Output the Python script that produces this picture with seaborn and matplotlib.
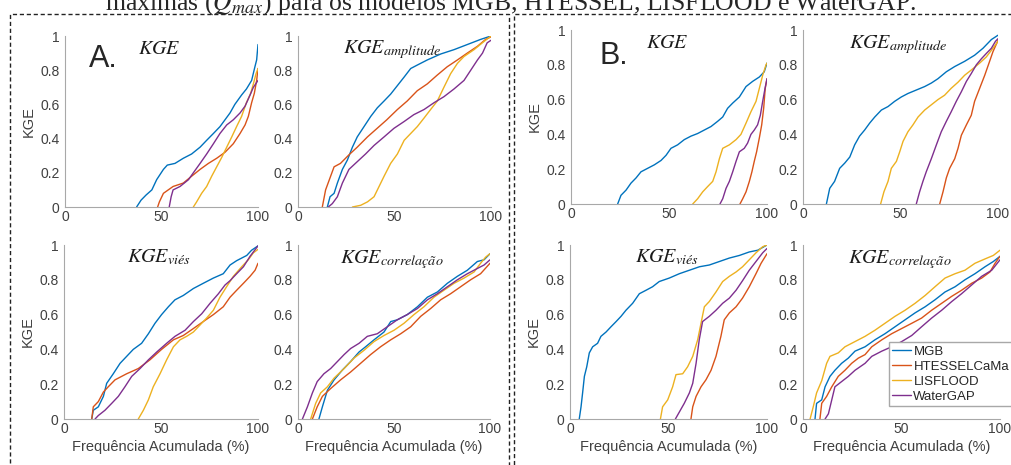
import matplotlib
matplotlib.use("Agg")
import matplotlib.pyplot as plt
import matplotlib.patches as mpatches
import pandas as pd
import seaborn as sns

modelos = ["MGB", "HTESSELCaMa", "LISFLOOD", "WaterGAP"]
cores = ["#0072BD", "#D95319", "#EDB120", "#7E2F8E"]

legenda_caption = "máximas ($Q_{max}$) para os modelos MGB, HTESSEL, LISFLOOD e WaterGAP."
xticks = [0, 50, 100]
yticks = [0, 0.2, 0.4, 0.6, 0.8, 1]
ytick_labels = ["0", "0.2", "0.4", "0.6", "0.8", "1"]

# curvas: modelo -> (frequencia acumulada %, KGE)
# A. KGE
a_kge = {
    "MGB": ([37.1, 39.4, 42, 45, 47.5, 51, 53, 57, 61.3, 65.6, 70, 73.4, 76.9, 80.3, 82.9, 85.5, 88, 91.5, 94, 96.7, 98.4, 99.3, 100],
            [0, 0.04, 0.07, 0.1, 0.16, 0.22, 0.245, 0.255, 0.285, 0.31, 0.35, 0.39, 0.43, 0.47, 0.51, 0.55, 0.6, 0.655, 0.69, 0.74, 0.82, 0.86, 0.95]),
    "HTESSELCaMa": ([48, 48.9, 51, 56, 61.3, 65.6, 70, 74.3, 78.6, 82.9, 87.2, 90.7, 93.3, 95, 96.7, 98.1, 99.3, 100],
                    [0, 0.03, 0.08, 0.12, 0.14, 0.18, 0.22, 0.255, 0.285, 0.32, 0.37, 0.43, 0.48, 0.53, 0.61, 0.665, 0.74, 0.81]),
    "LISFLOOD": ([66.5, 68.2, 70.8, 73.4, 76, 78.6, 81.2, 83.8, 86.4, 88.9, 91.5, 94, 96.2, 97.6, 99, 100],
                 [0, 0.03, 0.08, 0.12, 0.18, 0.235, 0.29, 0.35, 0.41, 0.47, 0.53, 0.61, 0.665, 0.72, 0.78, 0.81]),
    "WaterGAP": ([54, 55, 56, 59.6, 64, 66.5, 70, 73.4, 76.9, 80.3, 83.8, 87.2, 90.7, 93.3, 95.9, 97.6, 100],
                 [0, 0.06, 0.1, 0.12, 0.16, 0.2, 0.255, 0.31, 0.37, 0.43, 0.48, 0.51, 0.55, 0.59, 0.655, 0.7, 0.74]),
}
# A. KGE amplitude
a_amp = {
    "MGB": ([15.2, 16.6, 18.7, 20.4, 23, 25.6, 28.2, 30.7, 34.2, 37.7, 41.1, 44.6, 48, 51.5, 55, 58.4, 61.8, 67, 74, 80.8, 87.7, 94.6, 100],
            [0, 0.06, 0.08, 0.14, 0.22, 0.275, 0.35, 0.41, 0.47, 0.53, 0.58, 0.62, 0.66, 0.71, 0.76, 0.81, 0.83, 0.86, 0.895, 0.92, 0.95, 0.98, 1.0]),
    "HTESSELCaMa": ([12.6, 14.3, 16.9, 18.7, 22, 26.4, 30.7, 36, 41, 46, 51.5, 56.6, 61.8, 67, 72, 77.3, 82.6, 87.7, 93, 97.2, 100],
                    [0, 0.1, 0.18, 0.235, 0.255, 0.305, 0.35, 0.41, 0.46, 0.51, 0.57, 0.62, 0.68, 0.72, 0.77, 0.82, 0.86, 0.9, 0.94, 0.98, 0.995]),
    "LISFLOOD": ([28.2, 32.5, 36, 39.4, 42, 44.6, 48, 51.5, 55, 58.4, 61.8, 65.3, 68.7, 72.2, 75.6, 79.1, 82.6, 86, 91.2, 95.5, 100],
                 [0, 0.01, 0.03, 0.06, 0.12, 0.18, 0.255, 0.31, 0.39, 0.43, 0.47, 0.52, 0.57, 0.62, 0.7, 0.78, 0.84, 0.88, 0.92, 0.96, 1.0]),
    "WaterGAP": ([15.7, 17.8, 20.4, 23, 26.4, 30.7, 35, 39.4, 44.6, 49.7, 55, 60, 65.3, 70.5, 75.6, 80.8, 86, 89.5, 93, 95.6, 98, 100],
                 [0, 0.02, 0.06, 0.14, 0.22, 0.265, 0.31, 0.36, 0.41, 0.46, 0.5, 0.54, 0.57, 0.61, 0.645, 0.69, 0.74, 0.8, 0.86, 0.9, 0.96, 0.975]),
}
# A. KGE vies
a_vies = {
    "MGB": ([14.3, 15.1, 17.7, 20.3, 22, 25.4, 28.9, 32.3, 35.7, 40, 43.5, 46.9, 50.3, 53.8, 57.2, 61.5, 66.7, 71.8, 77, 82.1, 85.6, 89, 94.2, 96.7, 100],
            [0, 0.05, 0.07, 0.13, 0.205, 0.26, 0.32, 0.36, 0.4, 0.435, 0.49, 0.55, 0.6, 0.645, 0.685, 0.71, 0.75, 0.78, 0.81, 0.835, 0.885, 0.91, 0.94, 0.97, 0.995]),
    "HTESSELCaMa": ([14.3, 15.1, 17.7, 20.3, 22.8, 26.3, 32.3, 38.3, 44.3, 50.3, 56.4, 61.5, 66.7, 71.8, 77, 82.1, 85.6, 89, 92.5, 95.9, 98.5, 100],
                    [0, 0.07, 0.1, 0.155, 0.185, 0.225, 0.26, 0.29, 0.34, 0.4, 0.455, 0.48, 0.52, 0.56, 0.6, 0.645, 0.7, 0.74, 0.78, 0.82, 0.855, 0.895]),
    "LISFLOOD": ([38.3, 40.9, 43.5, 46, 49.5, 52.9, 56.4, 59.8, 63.2, 66.7, 70.1, 73.5, 77, 80.4, 83.8, 87.3, 91.6, 95, 97.6, 100],
                 [0, 0.05, 0.11, 0.185, 0.26, 0.34, 0.415, 0.455, 0.475, 0.5, 0.54, 0.58, 0.625, 0.7, 0.76, 0.82, 0.875, 0.915, 0.955, 0.975]),
    "WaterGAP": ([16, 17.7, 21.1, 24.6, 28, 31.4, 34.9, 39.2, 43.5, 47.8, 52.9, 57.2, 62.4, 66.7, 71, 75.3, 79.6, 83, 85.6, 89, 92.5, 95.9, 100],
                 [0, 0.02, 0.05, 0.09, 0.13, 0.185, 0.245, 0.29, 0.34, 0.385, 0.435, 0.475, 0.51, 0.56, 0.605, 0.665, 0.72, 0.77, 0.795, 0.835, 0.875, 0.935, 0.995]),
}
# A. KGE correlacao
a_corr = {
    "MGB": ([10.9, 12.7, 15.3, 18.8, 23, 27.4, 31.8, 35.2, 39.6, 44.8, 48.3, 51.7, 56.9, 62.2, 67.4, 72.6, 77.8, 83, 88.2, 93.4, 96.9, 100],
            [0, 0.07, 0.165, 0.225, 0.28, 0.33, 0.385, 0.415, 0.455, 0.5, 0.56, 0.57, 0.6, 0.645, 0.7, 0.73, 0.78, 0.82, 0.855, 0.905, 0.915, 0.95]),
    "HTESSELCaMa": ([7.5, 10, 12.7, 17, 22.2, 27.4, 32.6, 37.8, 43, 48.3, 53.5, 58.7, 63.9, 69.1, 74.3, 79.5, 84.7, 89.9, 95.1, 100],
                    [0, 0.07, 0.13, 0.175, 0.225, 0.27, 0.32, 0.37, 0.415, 0.455, 0.49, 0.53, 0.59, 0.635, 0.685, 0.72, 0.76, 0.8, 0.835, 0.895]),
    "LISFLOOD": ([6.6, 9.2, 11.8, 15.3, 18.8, 24, 29.2, 34.4, 39.6, 44.8, 50, 55.2, 60.4, 65.6, 70.8, 76, 81.3, 86.5, 91.7, 95.1, 97.7, 100],
                 [0, 0.09, 0.15, 0.185, 0.235, 0.29, 0.35, 0.395, 0.445, 0.48, 0.51, 0.55, 0.6, 0.645, 0.7, 0.74, 0.78, 0.81, 0.845, 0.895, 0.93, 0.95]),
    "WaterGAP": ([2.3, 4.9, 7.5, 10, 13.5, 17, 20.5, 24, 27.4, 31.8, 36.1, 41.3, 46.5, 51.7, 56.9, 62.2, 67.4, 72.6, 77.8, 83, 88.2, 93.4, 96.9, 100],
                 [0, 0.07, 0.15, 0.215, 0.26, 0.29, 0.33, 0.37, 0.405, 0.435, 0.475, 0.49, 0.53, 0.57, 0.6, 0.635, 0.685, 0.72, 0.76, 0.8, 0.835, 0.865, 0.885, 0.915]),
}
# B. KGE
b_kge = {
    "MGB": ([23.8, 25.5, 28.1, 30.6, 33.2, 35.7, 39.1, 42.5, 45.9, 48.5, 51, 54.4, 57.8, 61.2, 64.6, 68, 71.4, 74.8, 77.4, 79.9, 82.5, 85.9, 89.3, 92.7, 96.1, 98.6, 100],
            [0, 0.05, 0.08, 0.12, 0.15, 0.185, 0.205, 0.225, 0.25, 0.28, 0.32, 0.34, 0.37, 0.39, 0.405, 0.425, 0.445, 0.475, 0.5, 0.55, 0.58, 0.615, 0.675, 0.705, 0.73, 0.76, 0.81]),
    "HTESSELCaMa": ([86.2, 87.6, 89.3, 91, 92.3, 93.5, 94.7, 96.1, 97.3, 98.3, 99.1, 100],
                    [0, 0.03, 0.07, 0.13, 0.185, 0.245, 0.3, 0.38, 0.455, 0.55, 0.665, 0.72]),
    "LISFLOOD": ([62.1, 64.6, 67.2, 69.7, 72.3, 74, 75.7, 77.4, 80.8, 84.2, 86.7, 89.3, 91.8, 94.4, 96.1, 97.8, 99.5, 100],
                 [0, 0.03, 0.07, 0.1, 0.13, 0.185, 0.26, 0.32, 0.34, 0.37, 0.4, 0.465, 0.53, 0.59, 0.665, 0.74, 0.8, 0.81]),
    "WaterGAP": ([76, 77.4, 79.1, 80.8, 82.5, 84.2, 85.9, 88.4, 90.1, 91.8, 93.5, 95.2, 96.6, 97.8, 99, 100],
                 [0, 0.03, 0.09, 0.13, 0.185, 0.245, 0.3, 0.32, 0.35, 0.4, 0.425, 0.455, 0.51, 0.59, 0.665, 0.72]),
}
# B. KGE amplitude
b_amp = {
    "MGB": ([12, 13.7, 16.2, 18.8, 21.4, 24, 26.5, 29, 31.6, 34.2, 36.8, 40.2, 43.6, 47, 50.4, 53.8, 58.1, 62.4, 65.8, 69.2, 73.5, 77.8, 82.9, 88, 92.3, 96.6, 100],
            [0, 0.09, 0.13, 0.205, 0.235, 0.27, 0.34, 0.39, 0.425, 0.465, 0.5, 0.54, 0.56, 0.59, 0.615, 0.635, 0.655, 0.675, 0.695, 0.72, 0.76, 0.79, 0.82, 0.855, 0.895, 0.945, 0.97]),
    "HTESSELCaMa": ([70.1, 71.8, 73.5, 75.2, 77.8, 79.5, 81.2, 83.8, 86.3, 88, 90.6, 93.2, 95.7, 97.4, 100],
                    [0, 0.07, 0.15, 0.205, 0.26, 0.32, 0.395, 0.455, 0.51, 0.59, 0.665, 0.74, 0.82, 0.875, 0.94]),
    "LISFLOOD": ([39.8, 41.5, 43.6, 45.3, 47.9, 49.6, 51.3, 53.8, 56.4, 59, 62.4, 65.8, 69.2, 72.6, 76, 79.5, 82.9, 86.3, 90.6, 94, 97.4, 100],
                 [0, 0.07, 0.13, 0.205, 0.245, 0.3, 0.36, 0.415, 0.455, 0.5, 0.54, 0.57, 0.6, 0.625, 0.665, 0.7, 0.74, 0.77, 0.81, 0.845, 0.895, 0.935]),
    "WaterGAP": ([58.1, 59.8, 61.5, 63.2, 65.8, 68.4, 70.9, 73.5, 76, 78.6, 81.2, 83.8, 86.3, 88.9, 91.5, 94, 96.6, 98.7, 100],
                 [0, 0.07, 0.13, 0.185, 0.26, 0.34, 0.415, 0.475, 0.53, 0.59, 0.645, 0.705, 0.75, 0.8, 0.835, 0.865, 0.895, 0.935, 0.95]),
}
# B. KGE vies
b_vies = {
    "MGB": ([4.7, 5.6, 6.4, 7.3, 8.5, 9.8, 11.5, 14, 15.7, 18.3, 20.8, 23.4, 25.9, 28.4, 31.8, 35.2, 38.6, 41.9, 45.3, 50.4, 55.5, 60.6, 65.7, 70.7, 75.8, 80.9, 86, 91, 95.3, 100],
            [0, 0.07, 0.15, 0.245, 0.3, 0.38, 0.415, 0.435, 0.475, 0.5, 0.53, 0.56, 0.59, 0.625, 0.665, 0.72, 0.74, 0.76, 0.79, 0.81, 0.835, 0.855, 0.875, 0.885, 0.905, 0.925, 0.94, 0.96, 0.97, 1.0]),
    "HTESSELCaMa": ([61.4, 62.3, 64, 66.5, 69, 71.6, 74.1, 76.6, 78.3, 80.9, 84.3, 87.6, 91, 94.4, 97, 100],
                    [0, 0.07, 0.13, 0.185, 0.225, 0.28, 0.36, 0.475, 0.57, 0.61, 0.645, 0.695, 0.76, 0.835, 0.895, 0.95]),
    "LISFLOOD": ([45.9, 47, 49.6, 52.1, 53.8, 57.2, 59.7, 62.3, 64.8, 66.5, 68.2, 70.7, 74.1, 77.5, 80.9, 84.3, 87.6, 91, 94.4, 97.8, 100],
                 [0, 0.07, 0.11, 0.185, 0.255, 0.26, 0.3, 0.36, 0.455, 0.55, 0.645, 0.675, 0.73, 0.79, 0.82, 0.845, 0.875, 0.915, 0.955, 0.99, 1.0]),
    "WaterGAP": ([53.5, 55.5, 58, 60.6, 62.3, 64, 65.6, 67.3, 70.7, 74.1, 77.5, 80.9, 84.3, 87.6, 91, 94.4, 97.8, 100],
                 [0, 0.04, 0.09, 0.15, 0.205, 0.32, 0.455, 0.56, 0.59, 0.625, 0.665, 0.695, 0.74, 0.795, 0.855, 0.905, 0.955, 0.98]),
}
# B. KGE correlacao
b_corr = {
    "MGB": ([6.1, 6.9, 9.5, 11.2, 13.7, 16.2, 19.6, 23, 26.4, 31.5, 36.5, 41.6, 46.7, 51.8, 56.9, 62, 67, 72.1, 77.2, 82.2, 87.3, 92.4, 96.6, 100],
            [0, 0.09, 0.11, 0.185, 0.245, 0.28, 0.32, 0.35, 0.39, 0.415, 0.455, 0.49, 0.53, 0.57, 0.61, 0.645, 0.685, 0.73, 0.76, 0.8, 0.835, 0.875, 0.905, 0.935]),
    "HTESSELCaMa": ([8.6, 9.5, 12, 14.6, 17.9, 21.3, 24.7, 28.1, 31.5, 34.9, 40, 45, 50.1, 55.2, 60.2, 65.3, 70.4, 75.5, 80.5, 85.6, 90.7, 94.9, 97.5, 100],
                    [0, 0.09, 0.13, 0.185, 0.245, 0.28, 0.32, 0.35, 0.37, 0.415, 0.455, 0.49, 0.52, 0.55, 0.58, 0.625, 0.665, 0.705, 0.74, 0.78, 0.81, 0.845, 0.895, 0.935]),
    "LISFLOOD": ([3.6, 5.2, 6.9, 9.5, 12, 13.7, 17.9, 21.3, 26.4, 31.5, 36.5, 41.6, 46.7, 51.8, 56.9, 62, 67, 72.1, 77.2, 82.2, 87.3, 92.4, 96.6, 100],
                 [0, 0.07, 0.15, 0.22, 0.32, 0.36, 0.38, 0.415, 0.445, 0.475, 0.51, 0.55, 0.59, 0.625, 0.665, 0.71, 0.76, 0.81, 0.835, 0.855, 0.895, 0.92, 0.94, 0.97]),
    "WaterGAP": ([11.2, 12.9, 14.6, 16.2, 19.6, 23, 26.4, 31.5, 34.9, 40, 45, 50.1, 55.2, 60.2, 65.3, 70.4, 75.5, 80.5, 85.6, 90.7, 95.8, 100],
                 [0, 0.03, 0.11, 0.185, 0.215, 0.245, 0.28, 0.32, 0.36, 0.39, 0.415, 0.445, 0.48, 0.53, 0.58, 0.625, 0.675, 0.72, 0.77, 0.82, 0.855, 0.915]),
}

sns.set_style("white")
plt.rcParams["font.family"] = ["Liberation Sans", "DejaVu Sans"]
plt.rcParams["mathtext.fontset"] = "stix"

W, H = 1011, 465
fig = plt.figure(figsize=(W / 100, H / 100), dpi=100)


def pos(x0, y0, w, h):
    # pixel box (top-left origin) -> figure fraction
    return [x0 / W, 1 - (y0 + h) / H, w / W, h / H]


def tabela(curvas):
    linhas = []
    for m in modelos:
        fx, ky = curvas[m]
        for f, k in zip(fx, ky):
            linhas.append({"freq": f, "kge": k, "modelo": m})
    return pd.DataFrame(linhas)


paineis = [
    (a_kge, r"$KGE$", pos(65, 36, 193, 171), True, False),
    (a_amp, r"$KGE_{amplitude}$", pos(298, 36, 193, 171), False, False),
    (a_vies, r"$KGE_{viés}$", pos(64, 245, 194, 174), True, True),
    (a_corr, r"$KGE_{correlação}$", pos(298, 245, 192, 174), False, True),
    (b_kge, r"$KGE$", pos(571, 30, 196, 174), True, False),
    (b_amp, r"$KGE_{amplitude}$", pos(803, 30, 195, 174), False, False),
    (b_vies, r"$KGE_{viés}$", pos(570, 245, 197, 174), True, True),
    (b_corr, r"$KGE_{correlação}$", pos(803, 245, 197, 174), False, True),
]

eixos = []
for curvas, titulo, caixa, ylab, xlab in paineis:
    ax = fig.add_axes(caixa)
    sns.lineplot(data=tabela(curvas), x="freq", y="kge", hue="modelo",
                 hue_order=modelos, palette=cores, estimator=None, sort=False,
                 linewidth=1.0, legend=False, ax=ax)
    ax.set_xlim(0, 100)
    ax.set_ylim(0, 1)
    ax.set_xticks(xticks)
    ax.set_yticks(yticks)
    ax.set_yticklabels(ytick_labels)
    for s in ["top", "right"]:
        ax.spines[s].set_visible(False)
    for s in ["left", "bottom"]:
        ax.spines[s].set_color("#a8a8a8")
        ax.spines[s].set_linewidth(0.8)
    ax.tick_params(direction="in", length=3, width=0.6, color="#a8a8a8",
                   labelsize=10, labelcolor="#404040", pad=2)
    ax.tick_params(axis="y", pad=4)
    ax.set_ylabel("KGE" if ylab else "", fontsize=10.5, color="#404040", labelpad=3)
    ax.set_xlabel("Frequência Acumulada (%)" if xlab else "", fontsize=10.5,
                  color="#404040", labelpad=3)
    ax.text(0.49, 0.985, titulo, transform=ax.transAxes, ha="center", va="top",
            fontsize=14.5, color="#1a1a1a")
    eixos.append(ax)

# legenda no ultimo grafico
linhas_leg = [plt.Line2D([], [], color=c, lw=1.0) for c in cores]
fig.legend(linhas_leg, modelos, loc="upper left",
           bbox_to_anchor=(889 / W, 1 - 342 / H), fontsize=9.5, frameon=True,
           fancybox=False, edgecolor="#a8a8a8", framealpha=1,
           handlelength=1.45, handletextpad=0.15, labelspacing=0.22,
           borderpad=0.25, borderaxespad=0)

fig.text(89 / W, 1 - 67 / H, "A.", fontsize=22, va="baseline", ha="left")
fig.text(599 / W, 1 - 64 / H, "B.", fontsize=22, va="baseline", ha="left")

fig.text(0.505, 1 - 10 / H, legenda_caption, ha="center", va="baseline",
         fontsize=18.5, family="Liberation Serif")

# molduras tracejadas dos paineis
for x0, x1 in [(10, 509), (514, 1030)]:
    fig.patches.append(mpatches.Rectangle((x0 / W, -0.1), (x1 - x0) / W, 1.1 - 14 / H,
                                          transform=fig.transFigure, fill=False,
                                          edgecolor="#222222", linewidth=1.0,
                                          linestyle=(0, (3, 2))))

fig.savefig("out.png", dpi=100)
